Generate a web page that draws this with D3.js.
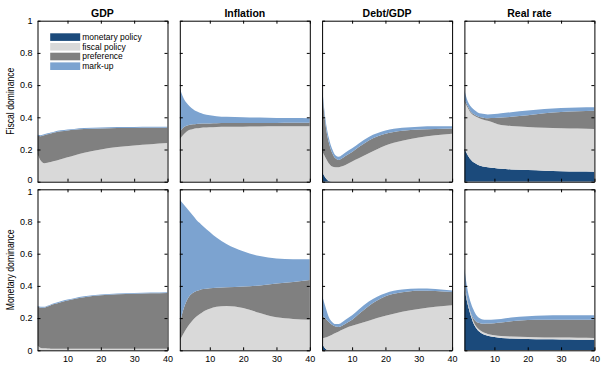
<!DOCTYPE html>
<html>
<head>
<meta charset="utf-8">
<script src="https://cdn.jsdelivr.net/npm/d3@7"></script>
<style>
  body { margin: 0; background: #fff; }
  svg { font-family: 'Liberation Sans', Arial, sans-serif; }
</style>
</head>
<body>
<svg id="chart"></svg>
<script>
// Horizon (quarters) and labels
const periods = [1, 2, 3, 4, 5, 6, 7, 8, 10, 12, 15, 20, 25, 30, 35, 40];
const shockNames = ['monetary policy', 'fiscal policy', 'preference', 'mark-up'];
const variables = ['GDP', 'Inflation', 'Debt/GDP', 'Real rate'];
const regimes = ['Fiscal dominance', 'Monetary dominance'];
const yTicks = [0, 0.2, 0.4, 0.6, 0.8, 1];
const xTicks = [10, 20, 30, 40];

// Shares per shock, order: monetary, fiscal, preference, mark-up
const fdGdp = [
    [0, 0, 0, 0, 0, 0, 0, 0, 0, 0, 0, 0, 0, 0, 0, 0],
    [0.17, 0.13, 0.115, 0.118, 0.122, 0.128, 0.134, 0.14, 0.152, 0.163, 0.18, 0.2, 0.215, 0.225, 0.233, 0.24],
    [0.115, 0.153, 0.173, 0.177, 0.178, 0.177, 0.176, 0.173, 0.166, 0.159, 0.147, 0.131, 0.118, 0.109, 0.102, 0.095],
    [0.006, 0.006, 0.006, 0.006, 0.006, 0.006, 0.006, 0.006, 0.006, 0.006, 0.006, 0.006, 0.006, 0.006, 0.006, 0.006]
];
const fdInflation = [
    [0, 0, 0, 0, 0, 0, 0, 0, 0, 0, 0, 0, 0, 0, 0, 0],
    [0.263, 0.29, 0.31, 0.322, 0.328, 0.332, 0.334, 0.336, 0.338, 0.34, 0.341, 0.342, 0.343, 0.344, 0.345, 0.345],
    [0.047, 0.045, 0.038, 0.032, 0.029, 0.027, 0.026, 0.025, 0.024, 0.023, 0.023, 0.022, 0.022, 0.021, 0.021, 0.021],
    [0.27, 0.19, 0.142, 0.113, 0.093, 0.078, 0.068, 0.06, 0.051, 0.044, 0.039, 0.036, 0.033, 0.031, 0.029, 0.028]
];
const fdDebt = [
    [0.06, 0.025, 0.005, 0, 0, 0, 0, 0, 0, 0, 0, 0, 0, 0, 0, 0],
    [0.13, 0.125, 0.11, 0.095, 0.09, 0.09, 0.096, 0.104, 0.125, 0.145, 0.176, 0.225, 0.255, 0.275, 0.289, 0.298],
    [0.38, 0.21, 0.13, 0.085, 0.055, 0.045, 0.049, 0.056, 0.06, 0.07, 0.08, 0.073, 0.062, 0.05, 0.039, 0.032],
    [0.02, 0.03, 0.03, 0.025, 0.02, 0.02, 0.021, 0.022, 0.023, 0.023, 0.022, 0.02, 0.018, 0.017, 0.016, 0.015]
];
const fdRate = [
    [0.205, 0.165, 0.135, 0.117, 0.105, 0.098, 0.093, 0.09, 0.085, 0.08, 0.076, 0.072, 0.068, 0.065, 0.063, 0.062],
    [0.292, 0.295, 0.29, 0.293, 0.293, 0.292, 0.29, 0.288, 0.28, 0.272, 0.27, 0.268, 0.267, 0.267, 0.267, 0.266],
    [0.01, 0.01, 0.008, 0.008, 0.009, 0.01, 0.013, 0.016, 0.03, 0.046, 0.057, 0.072, 0.09, 0.101, 0.107, 0.112],
    [0.063, 0.03, 0.032, 0.027, 0.023, 0.023, 0.024, 0.024, 0.025, 0.027, 0.029, 0.031, 0.027, 0.025, 0.024, 0.022]
];
const mdGdp = [
    [0, 0, 0, 0, 0, 0, 0, 0, 0, 0, 0, 0, 0, 0, 0, 0],
    [0.03, 0.015, 0.012, 0.011, 0.01, 0.01, 0.01, 0.01, 0.01, 0.01, 0.01, 0.01, 0.01, 0.01, 0.01, 0.01],
    [0.242, 0.25, 0.253, 0.261, 0.27, 0.277, 0.283, 0.289, 0.3, 0.309, 0.32, 0.332, 0.338, 0.341, 0.344, 0.346],
    [0.005, 0.005, 0.005, 0.005, 0.005, 0.005, 0.005, 0.005, 0.005, 0.005, 0.005, 0.005, 0.005, 0.005, 0.005, 0.005]
];
const mdInflation = [
    [0, 0, 0, 0, 0, 0, 0, 0, 0, 0, 0, 0, 0, 0, 0, 0],
    [0.062, 0.1, 0.135, 0.165, 0.19, 0.21, 0.225, 0.24, 0.258, 0.27, 0.275, 0.262, 0.232, 0.205, 0.195, 0.19],
    [0.104, 0.149, 0.17, 0.175, 0.168, 0.158, 0.15, 0.14, 0.128, 0.119, 0.116, 0.134, 0.171, 0.21, 0.23, 0.246],
    [0.767, 0.661, 0.58, 0.52, 0.477, 0.442, 0.415, 0.39, 0.349, 0.311, 0.269, 0.219, 0.182, 0.155, 0.141, 0.13]
];
const mdDebt = [
    [0.04, 0.01, 0, 0, 0, 0, 0, 0, 0, 0, 0, 0, 0, 0, 0, 0],
    [0.035, 0.07, 0.088, 0.097, 0.107, 0.117, 0.127, 0.137, 0.152, 0.165, 0.184, 0.214, 0.239, 0.257, 0.27, 0.28],
    [0.143, 0.117, 0.088, 0.061, 0.041, 0.028, 0.025, 0.028, 0.038, 0.06, 0.091, 0.121, 0.121, 0.113, 0.099, 0.082],
    [0.124, 0.073, 0.031, 0.018, 0.015, 0.018, 0.022, 0.025, 0.027, 0.028, 0.028, 0.02, 0.017, 0.014, 0.012, 0.01]
];
const mdRate = [
    [0.38, 0.285, 0.21, 0.155, 0.125, 0.108, 0.097, 0.09, 0.082, 0.077, 0.073, 0.07, 0.068, 0.067, 0.066, 0.065],
    [0.012, 0.012, 0.012, 0.012, 0.012, 0.012, 0.012, 0.012, 0.012, 0.012, 0.012, 0.012, 0.012, 0.012, 0.012, 0.012],
    [0.023, 0.008, 0.005, 0.023, 0.035, 0.047, 0.056, 0.064, 0.074, 0.083, 0.095, 0.106, 0.11, 0.111, 0.112, 0.113],
    [0.093, 0.065, 0.063, 0.05, 0.036, 0.028, 0.025, 0.024, 0.024, 0.023, 0.023, 0.024, 0.026, 0.027, 0.027, 0.027]
];

const panels = [
    [fdGdp, fdInflation, fdDebt, fdRate],
    [mdGdp, mdInflation, mdDebt, mdRate]
];

const colors = ['#1b4a7b', '#d9d9d9', '#808080', '#7ca3d0'];

const W = 602, H = 373;
const left0 = 37.5, colStep = 142.3, panelW = 130;
const rowTops = [20.7, 189.3], panelH = 161;

const svg = d3.select('#chart').attr('width', W).attr('height', H);

const x = d3.scaleLinear().domain([1, 40]).range([0, panelW]);
const y = d3.scaleLinear().domain([0, 1]).range([panelH, 0]);

const stack = d3.stack().keys(d3.range(4));

const area = d3.area()
    .x(d => x(d.data.t))
    .y0(d => y(d[0]))
    .y1(d => y(d[1]))
    .curve(d3.curveMonotoneX);

svg.append('defs').append('clipPath')
    .attr('id', 'clip')
    .append('rect')
    .attr('width', panelW)
    .attr('height', panelH);

panels.forEach((row, r) => {
    row.forEach((shares, c) => {
        const g = svg.append('g')
            .attr('transform', `translate(${left0 + c * colStep},${rowTops[r]})`);

        // table for d3.stack
        const table = periods.map((t, i) => {
            const o = {t: t};
            shares.forEach((s, k) => { o[k] = s[i]; });
            return o;
        });
        const layers = stack(table);

        g.append('g')
            .attr('clip-path', 'url(#clip)')
            .selectAll('path')
            .data(layers)
            .enter()
            .append('path')
            .attr('d', area)
            .attr('fill', (d, i) => colors[i]);

        // box with inward ticks
        const axL = d3.axisLeft(y).tickValues(yTicks).tickSizeInner(-3).tickSizeOuter(0).tickPadding(5)
            .tickFormat(c === 0 ? d => String(d) : () => '');
        const axR = d3.axisRight(y).tickValues(yTicks).tickSizeInner(-3).tickSizeOuter(0).tickFormat(() => '');
        const axT = d3.axisTop(x).tickValues(xTicks).tickSizeInner(-3).tickSizeOuter(0).tickFormat(() => '');
        const axB = d3.axisBottom(x).tickValues(xTicks).tickSizeInner(-3).tickSizeOuter(0).tickPadding(5)
            .tickFormat(r === 1 ? d => String(d) : () => '');

        const gl = g.append('g').attr('class', 'ax').call(axL);
        g.append('g').attr('class', 'ax').attr('transform', `translate(${panelW},0)`).call(axR);
        g.append('g').attr('class', 'ax').call(axT);
        g.append('g').attr('class', 'ax').attr('transform', `translate(0,${panelH})`).call(axB);

        // keep the stacked "0" and "1" labels apart, as in the original
        if (c === 0) {
            gl.selectAll('.tick text')
                .attr('dy', d => (r === 0 && d === 0) ? '0.1em' : (r === 1 && d === 1) ? '0.55em' : '0.32em');
        }

        if (r === 0) {
            g.append('text')
                .attr('x', panelW / 2)
                .attr('y', -4)
                .attr('text-anchor', 'middle')
                .style('font-size', '10.5px')
                .style('font-weight', 'bold')
                .text(variables[c]);
        }
        if (c === 0) {
            g.append('text')
                .attr('transform', `translate(-24,${panelH / 2}) rotate(-90)`)
                .attr('text-anchor', 'middle')
                .style('font-size', '10px')
                .attr('textLength', r === 0 ? 67 : 81)
                .attr('lengthAdjust', 'spacingAndGlyphs')
                .text(regimes[r]);
        }

        // legend in the first panel
        if (r === 0 && c === 0) {
            const leg = g.append('g').attr('transform', 'translate(12.7,12.6)');
            shockNames.forEach((name, i) => {
                leg.append('rect')
                    .attr('x', 0)
                    .attr('y', i * 9.7)
                    .attr('width', 30)
                    .attr('height', 7.6)
                    .attr('fill', colors[i]);
                leg.append('text')
                    .attr('x', 32)
                    .attr('y', i * 9.7 + 6.8)
                    .style('font-size', '8.5px')
                    .text(name);
            });
        }
    });
});

svg.selectAll('.ax path, .ax line').attr('stroke', '#000').attr('stroke-width', 1);
svg.selectAll('.ax text').attr('fill', '#000').style('font-size', '9px').attr('font-family', null);
</script>
</body>
</html>
